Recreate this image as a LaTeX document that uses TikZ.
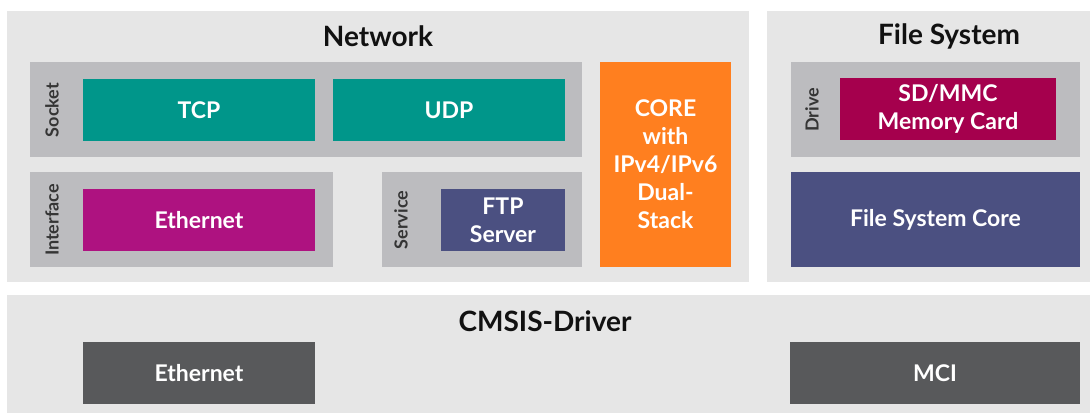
\documentclass[tikz,border=0pt]{standalone}
\usepackage{fontspec}
\setmainfont{Lato}
\definecolor{bglight}{HTML}{E6E6E6}
\definecolor{grpgray}{HTML}{BCBCBF}
\definecolor{tealc}{HTML}{00968A}
\definecolor{magc}{HTML}{AE1280}
\definecolor{purplec}{HTML}{4B5081}
\definecolor{orangec}{HTML}{FF7F1F}
\definecolor{crimsonc}{HTML}{A5004D}
\definecolor{darkg}{HTML}{58595B}
\definecolor{titlec}{HTML}{111111}
\tikzset{
  panel/.style={fill=bglight, draw=none},
  grp/.style={fill=grpgray, draw=none},
  blk/.style={fill=#1, draw=none, text=white, font=\fontsize{23}{28}\selectfont\bfseries, align=center, inner sep=0pt},
  ttl/.style={text=titlec, font=\fontsize{28}{32}\selectfont\bfseries, inner sep=0pt},
  side/.style={text=titlec!85, font=\fontsize{18}{20}\selectfont\bfseries, rotate=90, inner sep=0pt}
}
\begin{document}
\begin{tikzpicture}[x=1pt,y=-1pt]
\useasboundingbox[fill=white] (0,0) rectangle (1091,413);
% panels
\path[panel] (7,11) rectangle (749,282);
\path[panel] (767,11) rectangle (1090,282);
\path[panel] (7,295) rectangle (1090,413);
\node[ttl] (tnet) at (378,36) {Network};
\node[ttl] (tfs) at (949,36) {File System};
\node[ttl] (tcm) at (545,321) {CMSIS-Driver};
% groups
\path[grp] (30,62) rectangle (582,157);
\path[grp] (30,172) rectangle (333,267);
\path[grp] (382,172) rectangle (582,267);
\path[grp] (791,62) rectangle (1080,157);
\node[side] (lsock) at (52,110) {Socket};
\node[side] (lint) at (52,220) {Interface};
\node[side] (lserv) at (401,220) {Service};
\node[side] (ldrive) at (812,110) {Drive};
% blocks
\node[blk=tealc, minimum width=232pt, minimum height=62pt] (tcp) at (199,110) {TCP};
\node[blk=tealc, minimum width=232pt, minimum height=62pt] (udp) at (449,110) {UDP};
\node[blk=magc, minimum width=232pt, minimum height=62pt] (eth) at (199,220) {Ethernet};
\node[blk=purplec, minimum width=124pt, minimum height=62pt] (ftp) at (503,220) {FTP\\Server};
\node[blk=orangec, minimum width=131pt, minimum height=205pt] (core) at (665.5,164.5) {CORE\\with\\IPv4/IPv6\\Dual-\\Stack};
\node[blk=crimsonc, minimum width=216pt, minimum height=62pt] (sd) at (948,109) {SD/MMC\\Memory Card};
\node[blk=purplec, minimum width=289pt, minimum height=95pt] (fsc) at (935.5,219.5) {File System Core};
\node[blk=darkg, minimum width=232pt, minimum height=62pt] (deth) at (199,373) {Ethernet};
\node[blk=darkg, minimum width=290pt, minimum height=62pt] (mci) at (935,373) {MCI};
\end{tikzpicture}
\end{document}
